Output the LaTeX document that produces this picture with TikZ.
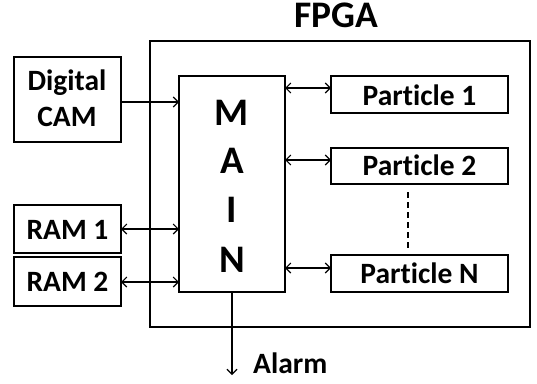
\documentclass[tikz,border=0pt]{standalone}
\usepackage{fontspec}
\setmainfont[Ligatures=NoCommon]{Carlito}
\usetikzlibrary{arrows.meta}
\begin{document}
\begin{tikzpicture}[x=1pt,y=-1pt,
  boxline/.style={line width=1.9pt},
  lbl/.style={font=\bfseries\fontsize{29.5}{36}\selectfont,anchor=base,inner sep=0pt},
  big/.style={font=\bfseries\fontsize{39}{44}\selectfont,anchor=base,inner sep=0pt},
  tip/.tip={Straight Barb[length=5pt,width=10pt,line width=1.1pt]},
  conn/.style={line width=1.1pt,-tip},
  bconn/.style={line width=1.1pt,tip-tip}]
\useasboundingbox (0,0) rectangle (537,383);
% FPGA
\draw[line width=2.7pt] (150,41) rectangle (530,327);
\node[big,font=\bfseries\fontsize{37.5}{44}\selectfont] (fpga) at (336.5,27.5) {FPGA};
% MAIN
\draw[boxline] (179,76) rectangle (285,292);
\node[big] (main) at (232,125) {M};
\node[big] (mA) at (232,173) {A};
\node[big] (mI) at (232,222) {I};
\node[big] (mN) at (232,272) {N};
\coordinate (mainB) at (232,292);
% left blocks
\draw[boxline] (14,57) rectangle (121,142);
\node[lbl] (cam1) at (67,90.5) {Digital};
\node[lbl] (cam2) at (67,126.5) {CAM};
\draw[boxline] (14,205) rectangle (121,253);
\node[lbl] (ram1) at (67.5,239) {RAM 1};
\draw[boxline] (14,257) rectangle (121,306);
\node[lbl] (ram2) at (67.5,291) {RAM 2};
% particles
\draw[boxline] (331,76) rectangle (508,113);
\node[lbl] (p1) at (419.5,105) {Particle 1};
\draw[boxline] (331,148) rectangle (508,184);
\node[lbl] (p2) at (419.5,175.5) {Particle 2};
\draw[boxline] (331,255) rectangle (508,292);
\node[lbl] (pn) at (419.5,283.5) {Particle N};
% connectors
\draw[conn] (121,102) -- (179,102);
\draw[bconn] (121,229) -- (179,229);
\draw[bconn] (121,282) -- (179,282);
\draw[bconn] (285,88) -- (331,88);
\draw[bconn] (285,160) -- (331,160);
\draw[bconn] (285,268) -- (331,268);
\draw[line width=1.1pt,dash pattern=on 6pt off 4pt] (408,192) -- (408,248);
\draw[conn] (mainB) -- (232,375);
\node[lbl,anchor=base west] (alarm) at (253,373) {Alarm};
\end{tikzpicture}
\end{document}
